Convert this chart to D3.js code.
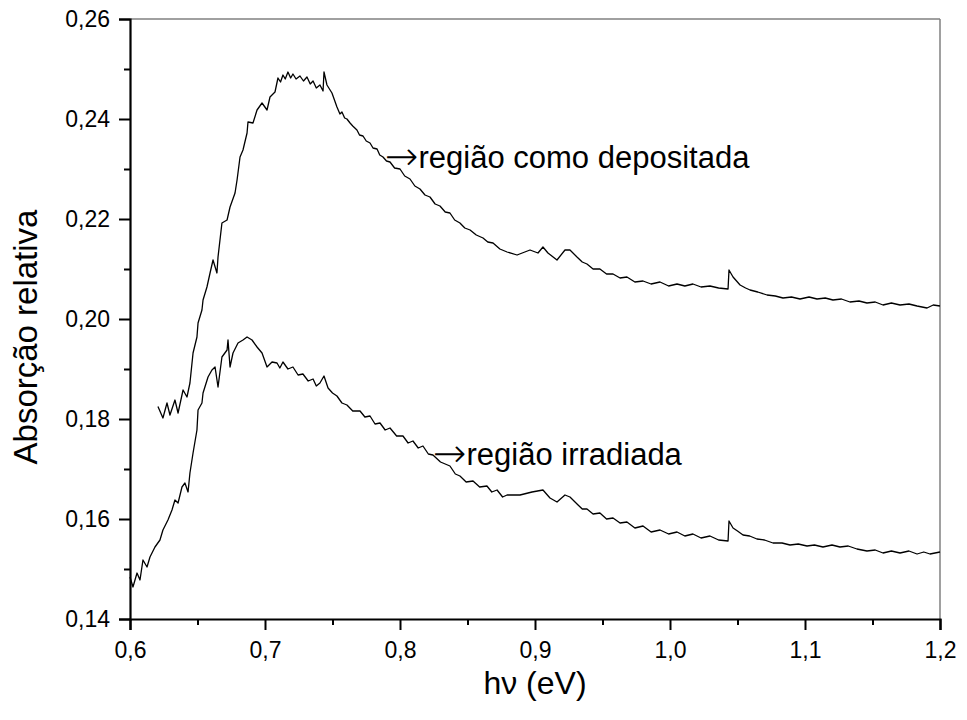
<!DOCTYPE html>
<html><head><meta charset="utf-8">
<script src="https://cdn.jsdelivr.net/npm/d3@7"></script>
<style>body{margin:0;background:#fff;} svg{display:block;}</style>
</head><body>
<svg id="c" width="967" height="720"></svg>
<script>
// [hν (eV), absorção relativa]
const deposited = [
[0.6207,0.1825],[0.6244,0.1802],[0.6274,0.1832],[0.6296,0.1808],[0.6333,0.1838],[0.6356,0.1812],[0.6393,0.1858],[0.6422,0.1844],[0.6444,0.1872],[0.6467,0.1932],[0.6496,0.1964],[0.6504,0.1992],[0.6533,0.2018],[0.6541,0.2038],[0.6570,0.2064],[0.6593,0.2092],[0.6615,0.2118],[0.6644,0.2092],[0.6652,0.2124],[0.6681,0.2192],[0.6719,0.2198],[0.6741,0.2224],[0.6778,0.2252],[0.6793,0.2278],[0.6815,0.2324],[0.6837,0.2338],[0.6867,0.2372],[0.6874,0.2394],[0.6911,0.2392],[0.6941,0.2418],[0.6978,0.2432],[0.7015,0.2418],[0.7037,0.2444],[0.7074,0.2454],
[0.7096,0.2482],[0.7115,0.2474],[0.7133,0.2488],[0.7150,0.2480],[0.7170,0.2494],[0.7190,0.2482],[0.7207,0.2490],[0.7230,0.2480],[0.7259,0.2486],[0.7285,0.2476],[0.7311,0.2484],[0.7335,0.2470],[0.7356,0.2476],[0.7380,0.2462],[0.7407,0.2468],[0.7430,0.2456],[0.7437,0.2494],[0.7459,0.2468],[0.7496,0.2452],
[0.7533,0.2424],[0.7555,0.2410],[0.7570,0.2414],[0.7590,0.2402],[0.7607,0.2400],[0.7630,0.2392],[0.7650,0.2386],[0.7681,0.2378],[0.7700,0.2368],[0.7726,0.2366],[0.7750,0.2356],[0.7778,0.2352],[0.7800,0.2342],[0.7830,0.2340],[0.7850,0.2328],[0.7874,0.2324],[0.7900,0.2316],[0.7926,0.2314],[0.7960,0.2302],[0.8000,0.2300],[0.8035,0.2286],[0.8074,0.2280],[0.8110,0.2266],[0.8148,0.2260],[0.8185,0.2248],[0.8222,0.2244],[0.8260,0.2230],[0.8296,0.2226],[0.8335,0.2214],[0.8370,0.2212],[0.8405,0.2198],[0.8444,0.2192],[0.8480,0.2182],[0.8519,0.2178],[0.8565,0.2168],[0.8615,0.2162],[0.8650,0.2154],[0.8689,0.2152],[0.8740,0.2140],[0.8793,0.2134],
[0.8867,0.2128],[0.8963,0.2138],[0.9022,0.2132],[0.9059,0.2144],[0.9096,0.2132],[0.9163,0.2118],[0.9222,0.2138],[0.9259,0.2138],[0.9311,0.2124],
[0.9350,0.2114],[0.9385,0.2110],[0.9430,0.2100],[0.9481,0.2100],[0.9530,0.2090],[0.9578,0.2090],[0.9630,0.2082],[0.9681,0.2084],[0.9740,0.2074],[0.9800,0.2076],[0.9860,0.2070],[0.9926,0.2074],[0.9990,0.2066],[1.0052,0.2070],[1.0110,0.2066],[1.0170,0.2070],[1.0230,0.2064],[1.0296,0.2066],[1.0360,0.2062],[1.0430,0.2060],[1.0437,0.2098],[1.0467,0.2084],[1.0519,0.2068],[1.0560,0.2062],[1.0593,0.2058],[1.0650,0.2054],[1.0719,0.2048],[1.0780,0.2046],[1.0837,0.2042],[1.0900,0.2044],[1.0963,0.2040],[1.1030,0.2044],[1.1089,0.2040],[1.1150,0.2042],[1.1207,0.2038],[1.1270,0.2040],[1.1333,0.2034],[1.1400,0.2036],[1.1459,0.2032],[1.1520,0.2034],[1.1578,0.2028],[1.1640,0.2032],[1.1704,0.2028],[1.1770,0.2030],[1.1830,0.2026],[1.1904,0.2022],[1.1950,0.2028],[1.2000,0.2026]
];
const irradiated = [
[0.6000,0.1484],[0.6022,0.1464],[0.6052,0.1492],[0.6074,0.1478],[0.6096,0.1518],[0.6126,0.1504],[0.6148,0.1524],[0.6185,0.1544],[0.6222,0.1558],[0.6244,0.1578],[0.6281,0.1598],[0.6311,0.1618],[0.6333,0.1638],[0.6356,0.1632],[0.6385,0.1664],[0.6407,0.1672],[0.6430,0.1654],[0.6444,0.1692],[0.6467,0.1732],[0.6496,0.1778],[0.6504,0.1818],[0.6533,0.1832],[0.6541,0.1852],[0.6578,0.1884],[0.6607,0.1898],[0.6630,0.1904],[0.6652,0.1864],[0.6681,0.1924],[0.6719,0.1938],[0.6726,0.1958],[0.6741,0.1904],[0.6763,0.1932],[0.6800,0.1952],[0.6837,0.1958],[0.6867,0.1964],[0.6904,0.1958],[0.6941,0.1944],[0.6978,0.1932],[0.7015,0.1904],[0.7052,0.1914],
[0.7089,0.1912],[0.7110,0.1902],[0.7133,0.1914],[0.7170,0.1900],[0.7207,0.1904],[0.7245,0.1888],[0.7281,0.1890],[0.7320,0.1876],[0.7356,0.1880],[0.7380,0.1866],[0.7407,0.1872],[0.7437,0.1886],
[0.7467,0.1862],[0.7500,0.1852],[0.7533,0.1846],[0.7570,0.1832],[0.7607,0.1828],[0.7650,0.1816],[0.7704,0.1816],[0.7740,0.1804],[0.7778,0.1806],[0.7815,0.1790],[0.7852,0.1792],[0.7890,0.1778],[0.7926,0.1782],[0.7975,0.1766],[0.8022,0.1766],[0.8060,0.1752],[0.8096,0.1756],[0.8135,0.1742],[0.8170,0.1746],[0.8210,0.1730],[0.8244,0.1728],[0.8300,0.1714],[0.8370,0.1706],[0.8410,0.1690],[0.8444,0.1686],[0.8490,0.1674],[0.8541,0.1676],[0.8590,0.1664],[0.8644,0.1666],[0.8680,0.1654],[0.8719,0.1658],[0.8760,0.1644],[0.8793,0.1648],
[0.8889,0.1648],[0.8978,0.1654],[0.9059,0.1658],[0.9111,0.1642],[0.9163,0.1634],[0.9222,0.1648],[0.9259,0.1644],[0.9319,0.1628],
[0.9350,0.1620],[0.9385,0.1620],[0.9430,0.1610],[0.9481,0.1612],[0.9530,0.1600],[0.9578,0.1602],[0.9630,0.1592],[0.9681,0.1594],[0.9740,0.1582],[0.9800,0.1586],[0.9860,0.1574],[0.9926,0.1578],[0.9990,0.1570],[1.0052,0.1574],[1.0110,0.1566],[1.0170,0.1570],[1.0230,0.1562],[1.0296,0.1566],[1.0360,0.1558],[1.0430,0.1556],[1.0437,0.1596],[1.0467,0.1582],[1.0500,0.1576],[1.0541,0.1568],[1.0590,0.1566],[1.0644,0.1560],[1.0700,0.1558],[1.0763,0.1552],[1.0830,0.1552],[1.0889,0.1548],[1.0950,0.1550],[1.1015,0.1546],[1.1070,0.1548],[1.1133,0.1544],[1.1200,0.1548],[1.1259,0.1544],[1.1320,0.1546],[1.1385,0.1540],[1.1459,0.1536],[1.1520,0.1538],[1.1578,0.1532],[1.1640,0.1536],[1.1704,0.1532],[1.1770,0.1536],[1.1830,0.1530],[1.1880,0.1534],[1.1926,0.1530],[1.2000,0.1534]
];
const xTicks = [0.6,0.7,0.8,0.9,1.0,1.1,1.2];
const yTicks = [0.14,0.16,0.18,0.20,0.22,0.24,0.26];
const xMinor = [0.65,0.75,0.85,0.95,1.05,1.15];
const yMinor = [0.15,0.17,0.19,0.21,0.23,0.25];
const labels = [{t:"região como depositada", x:0.7889, y:0.2302},{t:"região irradiada", x:0.8244, y:0.1708}];
const xTitle = "h\u03BD (eV)";
const yTitle = "Absorção relativa";

const svg = d3.select("#c");
const L=130, R=940, T=19, B=619;
const x = d3.scaleLinear().domain([0.6,1.2]).range([L,R]);
const y = d3.scaleLinear().domain([0.14,0.26]).range([B,T]);
const font = "Arial, 'Liberation Sans', sans-serif";
const fmt = d => d3.format(".1f")(d).replace(".",",");
const fmtY = d => d3.format(".2f")(d).replace(".",",");

svg.append("line").attr("x1",L).attr("x2",R).attr("y1",T).attr("y2",T).attr("stroke","#808080").attr("stroke-width",1.5);
svg.append("line").attr("x1",R).attr("x2",R).attr("y1",T).attr("y2",B).attr("stroke","#808080").attr("stroke-width",1.5);

const line = d3.line().x(d=>x(d[0])).y(d=>y(d[1]));
[deposited, irradiated].forEach(s=>{
  svg.append("path").datum(s).attr("d",line).attr("fill","none").attr("stroke","#000").attr("stroke-width",1.3).attr("stroke-linejoin","round");
});

svg.append("g").attr("transform",`translate(0,${B})`)
  .call(d3.axisBottom(x).tickValues(xTicks).tickFormat(fmt).tickSize(11).tickPadding(12));
svg.append("g").attr("transform",`translate(0,${B})`)
  .call(d3.axisBottom(x).tickValues(xMinor).tickFormat("").tickSize(6))
  .call(g=>g.select(".domain").remove());
svg.append("g").attr("transform",`translate(${L},0)`)
  .call(d3.axisLeft(y).tickValues(yTicks).tickFormat(fmtY).tickSize(11).tickPadding(9));
svg.append("g").attr("transform",`translate(${L},0)`)
  .call(d3.axisLeft(y).tickValues(yMinor).tickFormat("").tickSize(6))
  .call(g=>g.select(".domain").remove());
svg.selectAll(".domain").attr("stroke","#000").attr("stroke-width",2.2);
svg.selectAll(".tick line").attr("stroke","#000").attr("stroke-width",2);
svg.selectAll(".tick text").attr("font-family",font).attr("font-size",23).attr("fill","#000");

svg.append("text").attr("x",535).attr("y",694).attr("text-anchor","middle")
  .attr("font-family",font).attr("font-size",32).text(xTitle);
svg.append("text").attr("transform",`translate(37,337) rotate(-90)`).attr("text-anchor","middle")
  .attr("font-family",font).attr("font-size",33).text(yTitle);

const lg = svg.selectAll(".lbl").data(labels).enter().append("text")
  .attr("x",d=>x(d.x)).attr("y",d=>y(d.y)).attr("font-family",font).attr("font-size",31);
lg.append("tspan").attr("font-family","'DejaVu Sans'").attr("font-weight",200).attr("font-size",40).attr("dy",2).text("\u2192");
lg.append("tspan").attr("dy",-2).text(d=>d.t);
</script>
</body></html>
